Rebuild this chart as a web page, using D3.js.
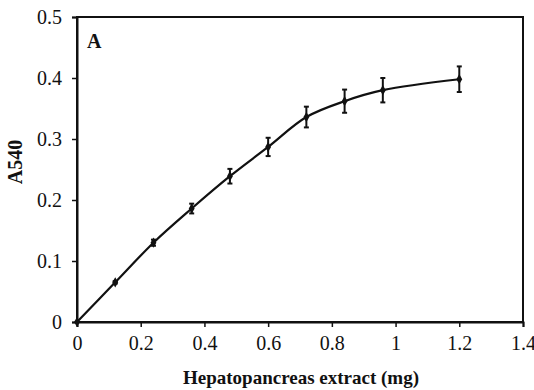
<!DOCTYPE html>
<html>
<head>
<meta charset="utf-8">
<script src="https://cdn.jsdelivr.net/npm/d3@7"></script>
<style>
  html, body { margin: 0; padding: 0; background: #fff; }
  svg { display: block; }
  text { font-family: "Liberation Serif", "Times New Roman", serif; fill: #111; }
</style>
</head>
<body>
<svg id="chart" width="534" height="390"></svg>
<script>
// Hepatopancreas extract (mg) vs absorbance at 540 nm
const extractMg = [0, 0.12, 0.24, 0.36, 0.48, 0.60, 0.72, 0.84, 0.96, 1.20];
const a540      = [0, 0.065, 0.130, 0.186, 0.239, 0.287, 0.336, 0.362, 0.380, 0.398];
const a540Err   = [0, 0.002, 0.005, 0.008, 0.012, 0.015, 0.017, 0.019, 0.020, 0.021];
const xTicks = [0, 0.2, 0.4, 0.6, 0.8, 1, 1.2, 1.4];
const yTicks = [0, 0.1, 0.2, 0.3, 0.4, 0.5];

const svg = d3.select("#chart");
const m = { left: 77, top: 17, right: 523, bottom: 322 };

const x = d3.scaleLinear().domain([0, 1.4]).range([m.left, m.right]);
const y = d3.scaleLinear().domain([0, 0.5]).range([m.bottom, m.top]);

const points = extractMg.map((v, i) => ({ x: v, y: a540[i], e: a540Err[i] }));

// frame
svg.append("rect")
  .attr("x", m.left).attr("y", m.top)
  .attr("width", m.right - m.left).attr("height", m.bottom - m.top)
  .attr("fill", "none").attr("stroke", "#111").attr("stroke-width", 2);

// axes
const fmt = d => String(+d.toFixed(1));
const xAxis = svg.append("g")
  .attr("transform", `translate(0,${m.bottom})`)
  .call(d3.axisBottom(x).tickValues(xTicks).tickSize(5).tickPadding(9).tickFormat(fmt));
const yAxis = svg.append("g")
  .attr("transform", `translate(${m.left},0)`)
  .call(d3.axisLeft(y).tickValues(yTicks).tickSize(5).tickPadding(10).tickFormat(fmt));

[xAxis, yAxis].forEach(g => {
  g.attr("font-family", null);
  g.select(".domain").attr("stroke", "#111").attr("stroke-width", 2);
  g.selectAll(".tick line").attr("stroke", "#111").attr("stroke-width", 1.5);
  g.selectAll(".tick text")
    .style("font-family", "'Liberation Serif', serif")
    .style("font-size", "20px").attr("fill", "#222");
});

// smoothed connecting line
const line = d3.line()
  .x(d => x(d.x)).y(d => y(d.y))
  .curve(d3.curveCatmullRom.alpha(0.5));
svg.append("path").datum(points)
  .attr("d", line)
  .attr("fill", "none").attr("stroke", "#111").attr("stroke-width", 2.2);

// error bars
const eb = svg.append("g").attr("stroke", "#111").attr("stroke-width", 2);
points.filter(d => d.e > 0).forEach(d => {
  eb.append("line")
    .attr("x1", x(d.x)).attr("x2", x(d.x))
    .attr("y1", y(d.y - d.e)).attr("y2", y(d.y + d.e));
  [d.y - d.e, d.y + d.e].forEach(v => {
    eb.append("line")
      .attr("x1", x(d.x) - 2.5).attr("x2", x(d.x) + 2.5)
      .attr("y1", y(v)).attr("y2", y(v));
  });
});

// markers
svg.append("g").selectAll("path").data(points).join("path")
  .attr("transform", d => `translate(${x(d.x)},${y(d.y)})`)
  .attr("d", d3.symbol(d3.symbolDiamond, 30))
  .attr("fill", "#111");

// panel letter
svg.append("text")
  .attr("x", 87).attr("y", 48)
  .attr("font-size", 20).attr("font-weight", "bold")
  .text("A");

// axis titles
svg.append("text")
  .attr("x", 301).attr("y", 384)
  .attr("text-anchor", "middle")
  .attr("font-size", 19).attr("font-weight", "bold")
  .text("Hepatopancreas extract (mg)");

svg.append("text")
  .attr("transform", "translate(22,162) rotate(-90)")
  .attr("text-anchor", "middle")
  .attr("font-size", 20).attr("font-weight", "bold")
  .text("A540");
</script>
</body>
</html>
